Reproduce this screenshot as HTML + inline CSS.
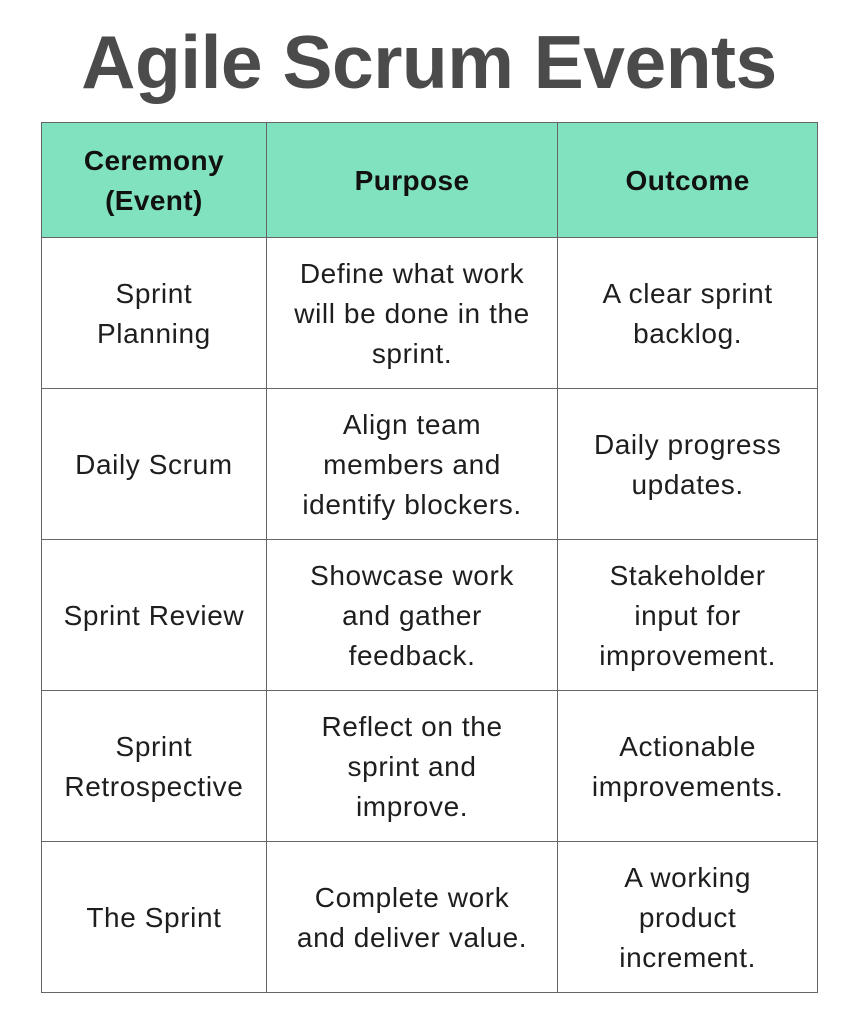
<!DOCTYPE html>
<html><head><style>
body{margin:0;width:858px;height:1024px;background:#fff;position:relative;font-family:"Liberation Sans",sans-serif;overflow:hidden}
.t{position:absolute;left:0;width:858px;top:19px;text-align:center;font-size:75px;font-weight:bold;color:#4b4b4b;letter-spacing:-0.5px}
table{position:absolute;left:41px;top:122px;border-collapse:collapse;width:777px}
td{border:1.5px solid #666;text-align:center;vertical-align:middle;font-size:28px;letter-spacing:0.6px;line-height:40px;color:#1e1e1e;padding:2px 4px 0}
th{border:1.5px solid #666;background:#80e2be;font-size:28px;letter-spacing:0.4px;line-height:40px;color:#111;font-weight:bold;height:112px;padding:2px 4px 0}
tr.r td{height:148px}
</style></head><body>
<div class="t">Agile Scrum Events</div>
<table>
<colgroup><col style="width:225px"><col style="width:292px"><col style="width:260px"></colgroup>
<tr><th>Ceremony<br>(Event)</th><th>Purpose</th><th>Outcome</th></tr>
<tr class="r"><td>Sprint<br>Planning</td><td>Define what work<br>will be done in the<br>sprint.</td><td>A clear sprint<br>backlog.</td></tr>
<tr class="r"><td>Daily Scrum</td><td>Align team<br>members and<br>identify blockers.</td><td>Daily progress<br>updates.</td></tr>
<tr class="r"><td>Sprint Review</td><td>Showcase work<br>and gather<br>feedback.</td><td>Stakeholder<br>input for<br>improvement.</td></tr>
<tr class="r"><td>Sprint<br>Retrospective</td><td>Reflect on the<br>sprint and<br>improve.</td><td>Actionable<br>improvements.</td></tr>
<tr class="r"><td>The Sprint</td><td>Complete work<br>and deliver value.</td><td>A working<br>product<br>increment.</td></tr>
</table>
</body></html>
